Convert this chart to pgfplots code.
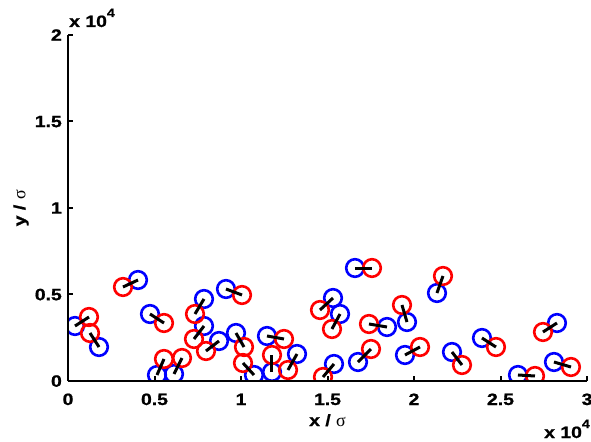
\documentclass[border=0pt]{standalone}
\usepackage{fontspec}
\usepackage{pgfplots}
\usepackage{pgfplotstable}
\pgfplotsset{compat=1.18}
\newfontfamily\lab[FakeStretch=1.18, FakeBold=1]{Liberation Sans Bold}
\newfontfamily\sym{Liberation Serif}
\newcommand\labsize{\lab\fontsize{16.5}{18}\selectfont}
\newcommand\expo{x 10\raisebox{10bp}{\lab\fontsize{12}{13}\selectfont 4}}

% dimer centres: blue particle (bx,by), red particle (rx,ry)
\pgfplotstableread{
bx     by    rx     ry
405    3179  1214   3699
1792   1965  1272   2774
4046   5838  3179   5433
4740   3873  5549   3352
5144   347   5549   1272
6127   405   6589   1329
7861   4740  7341   3873
7861   3179  7283   2428
8728   2312  7976   1734
9132   5318  10057  4971
9710   2774  10173  1965
10751  347   10115  1040
11502  2601  12485  2428
11791  520   11791  1503
13236  1561  12716  636
15317  4797  14566  4104
15722  3873  15259  3006
15375  983   14739  231
16589  6531  17571  6531
18438  3121  17398  3295
16762  1098  17513  1850
19594  3410  19305  4393
19479  1503  20346  1965
21328  5086  21675  6069
22195  1676  22773  925
23929  2485  24738  1965
26010  347   26993  289
28264  3352  27455  2832
28091  1098  29073  809
}\pairs

\begin{document}
\begin{tikzpicture}
\begin{axis}[
  at={(0,0)}, anchor=south west,
  scale only axis, width=519bp, height=346bp,
  xmin=0, xmax=30000, ymin=0, ymax=20000,
  axis x line=bottom, axis y line=left,
  axis line style={-, line width=2.7bp, black},
  axis on top,
  clip marker paths=true,
  scaled ticks=false,
  xtick={0,5000,10000,15000,20000,25000,30000},
  xticklabels={0,0.5,1,1.5,2,2.5,3},
  ytick={0,5000,10000,15000,20000},
  yticklabels={0,0.5,1,1.5,2},
  tick align=inside,
  major tick length=5bp,
  tick style={line width=2bp, black},
  ticklabel style={font=\labsize, text depth=0pt},
  xticklabel style={anchor=base, yshift=-24bp},
  yticklabel style={anchor=east, inner sep=0pt, xshift=-6bp},
]
\addplot[only marks, mark=o, mark size=8.8bp,
  mark options={draw=blue, line width=2.6bp}]
  table[x=bx, y=by] {\pairs};
\addplot[only marks, mark=o, mark size=8.8bp,
  mark options={draw=red, line width=2.6bp}]
  table[x=rx, y=ry] {\pairs};
\addplot[black, line width=3bp,
  quiver={u=\thisrow{rx}-\thisrow{bx}, v=\thisrow{ry}-\thisrow{by}}]
  table[x=bx, y=by] {\pairs};
\end{axis}
\node[font=\labsize, anchor=base] at (259.5bp,-45bp) {x / {\sym\fontsize{18}{19}\selectfont σ}};
\node[font=\labsize, rotate=90, anchor=center] at (-47bp,173bp) {y / {\sym\fontsize{18}{19}\selectfont σ}};
\node[font=\labsize, anchor=base west, inner sep=0pt] at (1bp,354bp) {\expo};
\node[font=\labsize, anchor=base west, inner sep=0pt] at (476bp,-57bp) {\expo};
\pgfresetboundingbox
\path (-68bp,-61bp) rectangle (523bp,381bp);
\end{tikzpicture}
\end{document}
